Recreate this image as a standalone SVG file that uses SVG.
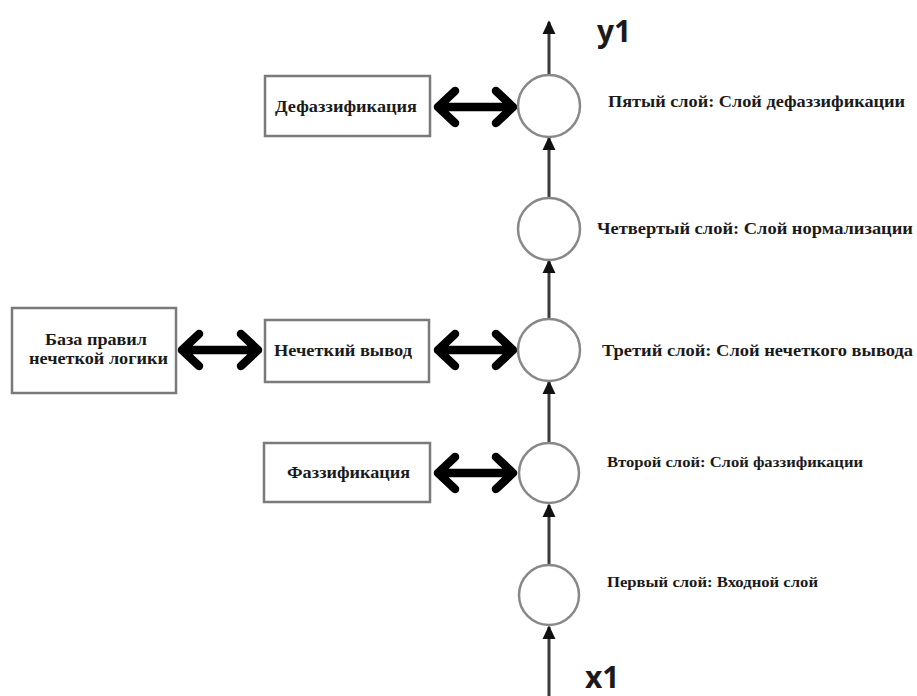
<svg xmlns="http://www.w3.org/2000/svg" width="917" height="696" viewBox="0 0 917 696">
<defs>
<style>
.box{fill:#fff;stroke:#7a7a7a;stroke-width:2.5}
.node{fill:#fff;stroke:#888;stroke-width:2.5}
.lbl{font-family:"Liberation Serif","DejaVu Serif",serif;font-weight:bold;fill:#1a1a1a}
.io{font-family:"Open Sans","Liberation Sans",sans-serif;font-weight:bold;font-size:30px;fill:#1a1a1a}
.vline{stroke:#3a3a3a;stroke-width:3;fill:none}
.dbl{stroke:#000;stroke-width:8.5;fill:none;stroke-linecap:round;stroke-linejoin:round}
</style>
<marker id="ah" markerWidth="14" markerHeight="16" refX="14" refY="7.5" orient="auto" markerUnits="userSpaceOnUse" viewBox="0 0 16 15">
<path d="M0,0 L16,7.5 L0,15 Z" fill="#111"/>
</marker>
</defs>
<rect width="917" height="696" fill="#fff"/>

<g id="connectors">
<line class="vline" x1="549" y1="75" x2="549" y2="22" marker-end="url(#ah)"/>
<line class="vline" x1="549" y1="198" x2="549" y2="138" marker-end="url(#ah)"/>
<line class="vline" x1="549" y1="319" x2="549" y2="261" marker-end="url(#ah)"/>
<line class="vline" x1="549" y1="442" x2="549" y2="382" marker-end="url(#ah)"/>
<line class="vline" x1="549" y1="564" x2="549" y2="505" marker-end="url(#ah)"/>
<line class="vline" x1="549" y1="696" x2="549" y2="627" marker-end="url(#ah)"/>
<path class="dbl" d="M438,107 L513,107 M455,91 L438,107 L455,123 M496,91 L513,107 L496,123"/>
<path class="dbl" d="M438,350 L513,350 M455,334 L438,350 L455,366 M496,334 L513,350 L496,366"/>
<path class="dbl" d="M438,473 L513,473 M455,457 L438,473 L455,489 M496,457 L513,473 L496,489"/>
<path class="dbl" d="M182,350 L258,350 M199,334 L182,350 L199,366 M241,334 L258,350 L241,366"/>
</g>

<g id="n5"><circle class="node" cx="549" cy="106" r="31"/>
<text class="lbl" x="608" y="107" font-size="16" textLength="297" lengthAdjust="spacingAndGlyphs">Пятый слой: Слой дефаззификации</text></g>
<g id="n4"><circle class="node" cx="549" cy="229" r="31"/>
<text class="lbl" x="597" y="234" font-size="17" textLength="316" lengthAdjust="spacingAndGlyphs">Четвертый слой: Слой нормализации</text></g>
<g id="n3"><circle class="node" cx="549" cy="350" r="31"/>
<text class="lbl" x="602" y="356" font-size="17" textLength="311" lengthAdjust="spacingAndGlyphs">Третий слой: Слой нечеткого вывода</text></g>
<g id="n2"><circle class="node" cx="549" cy="473" r="30"/>
<text class="lbl" x="607" y="467" font-size="15" textLength="256" lengthAdjust="spacingAndGlyphs">Второй слой: Слой фаззификации</text></g>
<g id="n1"><circle class="node" cx="549" cy="595" r="30"/>
<text class="lbl" x="607" y="587" font-size="15" textLength="211" lengthAdjust="spacingAndGlyphs">Первый слой: Входной слой</text></g>

<g id="defuzz"><rect class="box" x="265" y="76" width="165" height="60"/>
<text class="lbl" x="275" y="112" font-size="17" textLength="142" lengthAdjust="spacingAndGlyphs">Дефаззификация</text></g>
<g id="inference"><rect class="box" x="265" y="320" width="164" height="62"/>
<text class="lbl" x="274" y="356" font-size="17" textLength="138" lengthAdjust="spacingAndGlyphs">Нечеткий вывод</text></g>
<g id="fuzz"><rect class="box" x="264" y="443" width="166" height="59"/>
<text class="lbl" x="287" y="478" font-size="17" textLength="123" lengthAdjust="spacingAndGlyphs">Фаззификация</text></g>
<g id="rules"><rect class="box" x="12" y="308" width="164" height="85"/>
<text class="lbl" x="45" y="345" font-size="16" textLength="102" lengthAdjust="spacingAndGlyphs">База правил</text>
<text class="lbl" x="29" y="364" font-size="16" textLength="139" lengthAdjust="spacingAndGlyphs">нечеткой логики</text></g>

<g id="y1"><text class="io" x="597" y="42">y1</text></g>
<g id="x1"><text class="io" x="585" y="688">x1</text></g>
</svg>
